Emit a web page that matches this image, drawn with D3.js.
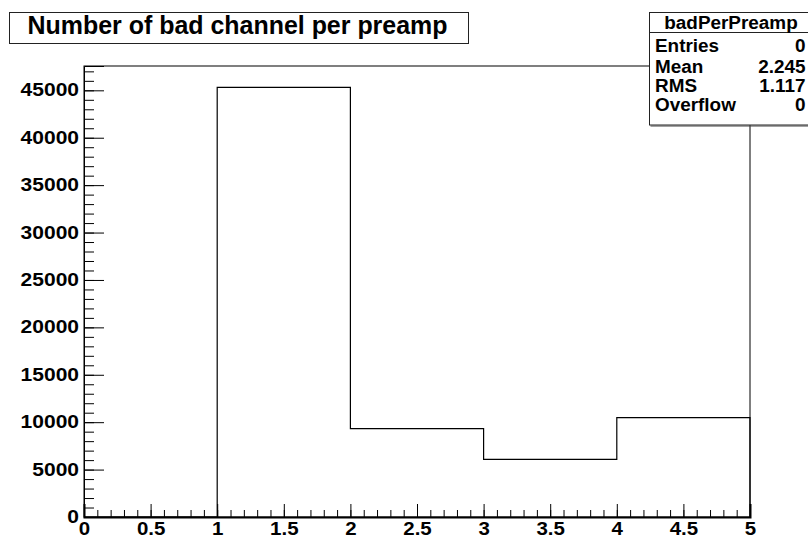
<!DOCTYPE html>
<html>
<head>
<meta charset="utf-8">
<script src="https://cdn.jsdelivr.net/npm/d3@7"></script>
<style>
  html, body { margin: 0; padding: 0; background: #fff; }
  svg text { font-family: "Liberation Sans", Arial, Helvetica, sans-serif; font-weight: bold; fill: #000; }
</style>
</head>
<body>
<svg id="chart" width="808" height="541"></svg>
<script>
// ---- data ----
const binEdges = [0, 1, 2, 3, 4, 5];
const binCounts = [0, 45317, 9323, 6085, 10483];
const xTickValues = [0, 0.5, 1, 1.5, 2, 2.5, 3, 3.5, 4, 4.5, 5];
const xTickLabels = ["0", "0.5", "1", "1.5", "2", "2.5", "3", "3.5", "4", "4.5", "5"];
const yTickValues = [0, 5000, 10000, 15000, 20000, 25000, 30000, 35000, 40000, 45000];
const yTickLabels = ["0", "5000", "10000", "15000", "20000", "25000", "30000", "35000", "40000", "45000"];
const titleText = "Number of bad channel per preamp";
const statsTitle = "badPerPreamp";
const statNames = ["Entries", "Mean", "RMS", "Overflow"];
const statValues = ["0", "2.245", "1.117", "0"];
const yMax = 47565;

// ---- layout ----
const L = 84, R = 750, T = 66, B = 517;
const svg = d3.select("#chart");
const x = d3.scaleLinear().domain([0, 5]).range([L, R]);
const y = d3.scaleLinear().domain([0, yMax]).range([B, T]);

function stretch(sel, f) {
  sel.each(function () {
    const len = this.getComputedTextLength();
    d3.select(this).attr("textLength", len * f).attr("lengthAdjust", "spacingAndGlyphs");
  });
}

// frame
svg.append("rect").attr("x", L).attr("y", T).attr("width", R - L).attr("height", B - T)
  .attr("fill", "none").attr("stroke", "#000").attr("stroke-width", 1);

// histogram step line
const pts = [[x(binEdges[0]), y(0)]];
binCounts.forEach((c, i) => {
  pts.push([x(binEdges[i]), y(c)]);
  pts.push([x(binEdges[i + 1]), y(c)]);
});
pts.push([x(binEdges[binEdges.length - 1]), y(0)]);
svg.append("path").attr("d", d3.line()(pts)).attr("fill", "none")
  .attr("stroke", "#000").attr("stroke-width", 1.2);

// x minor ticks
svg.append("g").attr("transform", `translate(0,${B})`)
  .call(d3.axisBottom(x).tickValues(d3.range(0, 51).map(d => d / 10)).tickSize(-7).tickFormat(""))
  .call(g => g.select(".domain").remove())
  .call(g => g.selectAll("line").attr("stroke", "#000"));
// x major ticks + labels
const gx = svg.append("g").attr("transform", `translate(0,${B})`)
  .call(d3.axisBottom(x).tickValues(xTickValues).tickSize(-13).tickPadding(5.5)
    .tickFormat((d, i) => xTickLabels[i]));
gx.select(".domain").attr("stroke", "#000").attr("stroke-width", 2);
gx.selectAll("line").attr("stroke", "#000");
gx.selectAll("text").attr("font-size", 17.5).attr("font-family", null);
stretch(gx.selectAll("text"), 1.17);

// y minor ticks
svg.append("g").attr("transform", `translate(${L},0)`)
  .call(d3.axisLeft(y).tickValues(d3.range(0, 48).map(d => d * 1000)).tickSize(-10).tickFormat(""))
  .call(g => g.select(".domain").remove())
  .call(g => g.selectAll("line").attr("stroke", "#000"));
// y major ticks + labels
const gy = svg.append("g").attr("transform", `translate(${L},0)`)
  .call(d3.axisLeft(y).tickValues(yTickValues).tickSize(-20).tickPadding(5)
    .tickFormat((d, i) => yTickLabels[i]));
gy.select(".domain").attr("stroke", "#000");
gy.selectAll("line").attr("stroke", "#000");
gy.selectAll("text").attr("font-size", 17.5).attr("font-family", null);
stretch(gy.selectAll("text"), 1.2);

// title box
svg.append("rect").attr("x", 9.5).attr("y", 12.5).attr("width", 459).attr("height", 31)
  .attr("fill", "#fff").attr("stroke", "#222").attr("stroke-width", 1);
svg.append("text").attr("x", 27.5).attr("y", 34.3).attr("font-size", 25)
  .attr("textLength", 420).attr("lengthAdjust", "spacingAndGlyphs").text(titleText);

// stats box
const sx = 649.5, sy = 12.5, sw = 170, sh = 112.5;
svg.append("rect").attr("x", sx).attr("y", sy).attr("width", sw).attr("height", sh)
  .attr("fill", "#fff").attr("stroke", "#222").attr("stroke-width", 1);
svg.append("line").attr("x1", sx + 1).attr("x2", 808).attr("y1", sy + sh + 1).attr("y2", sy + sh + 1)
  .attr("stroke", "#444").attr("stroke-width", 1);
svg.append("line").attr("x1", sx).attr("x2", 808).attr("y1", 32.5).attr("y2", 32.5)
  .attr("stroke", "#222").attr("stroke-width", 1);
const ht = svg.append("text").attr("x", 731).attr("y", 29).attr("text-anchor", "middle")
  .attr("font-size", 17.5).text(statsTitle);
stretch(ht, 1.08);
const rowY = [52.4, 72.6, 91.8, 110.8];
statNames.forEach((n, i) => {
  const t1 = svg.append("text").attr("x", 655).attr("y", rowY[i]).attr("font-size", 17.5).text(n);
  stretch(t1, 1.08);
  const t2 = svg.append("text").attr("x", 805.5).attr("y", rowY[i]).attr("text-anchor", "end")
    .attr("font-size", 17.5).text(statValues[i]);
  stretch(t2, 1.08);
});
</script>
</body>
</html>
